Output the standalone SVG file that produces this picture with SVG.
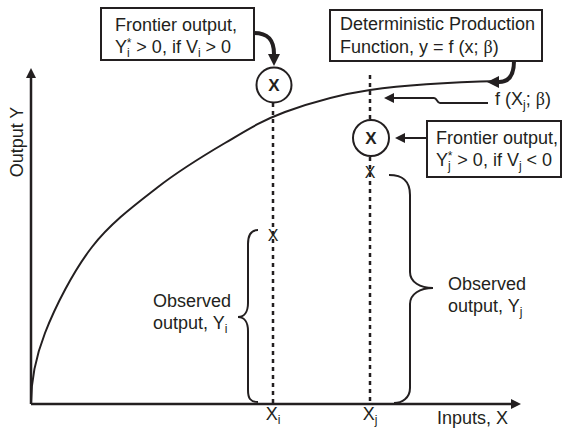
<svg xmlns="http://www.w3.org/2000/svg" width="562" height="429" viewBox="0 0 562 429">
<defs>
<style>
text{font-family:"Liberation Sans",Arial,sans-serif;font-size:18px;fill:#231f20}
.sub,.sup{font-size:12px}
.beta{font-family:"Liberation Serif","Times New Roman",serif}
.box{fill:#fff;stroke:#231f20;stroke-width:2}
.axis{fill:none;stroke:#231f20;stroke-width:2.5}
.curve{fill:none;stroke:#231f20;stroke-width:2}
.dot{fill:none;stroke:#231f20;stroke-width:2.5;stroke-dasharray:4 4}
.thick{fill:none;stroke:#231f20;stroke-width:4}
.thin{fill:none;stroke:#231f20;stroke-width:2}
.circ{fill:#fff;stroke:#231f20;stroke-width:2}
.mk{font-size:16px}
.bx{font-size:17px;font-weight:bold}
</style>
<marker id="ah" viewBox="0 0 10 10" refX="0" refY="5" markerWidth="14" markerHeight="12" markerUnits="userSpaceOnUse" orient="auto"><path d="M0,0 L10,5 L0,10 z" fill="#231f20"/></marker>
<marker id="ahs" viewBox="0 0 10 10" refX="0" refY="5" markerWidth="13" markerHeight="10" markerUnits="userSpaceOnUse" orient="auto"><path d="M0,0 L10,5 L0,10 z" fill="#231f20"/></marker>
</defs>

<g id="axes">
<path class="axis" d="M31,404 L31,78" marker-end="url(#ahs)"/>
<path class="axis" d="M31,404 L511,404" marker-end="url(#ahs)"/>
<text transform="translate(23,142) rotate(-90)" text-anchor="middle">Output Y</text>
<text x="437" y="424">Inputs, X</text>
<text x="273" y="420" text-anchor="middle">X<tspan class="sub" dy="4">i</tspan></text>
<text x="370" y="420" text-anchor="middle">X<tspan class="sub" dy="4">j</tspan></text>
</g>

<g id="frontier-curve">
<path class="curve" d="M31,404 C31,380 34.8,359.2 45,333 C55.2,306.8 73.2,271.3 92,247 C110.8,222.7 135.8,204.3 158,187 C180.2,169.7 203.8,155.5 225,143 C246.2,130.5 260.8,121 285,112 C309.2,103.2 334.2,95.2 370,90 C405.8,84.8 460,82 500,81"/>
</g>

<g id="connectors">
<path class="dot" d="M273,103 L273,404"/>
<path class="dot" d="M370,75 L370,120"/>
<path class="dot" d="M370,157 L370,404"/>
<path class="thick" d="M254,33 C268,33 274,40 274,54" marker-end="url(#ah)"/>
<path class="thick" d="M514,61 C514,76 508,82 499,82" marker-end="url(#ah)"/>
<path class="thin" d="M488,103 L440,103 C437,103 437,98 434,98 L394,98" marker-end="url(#ahs)"/>
<path class="thin" d="M427,138 L405,138" marker-end="url(#ahs)"/>
<path class="thin" d="M258,230 C250,230 248,236 248,244 L248,303 C248,312 244,317 238,317 C244,317 248,322 248,331 L248,390 C248,398 250,402 258,402"/>
<path class="thin" d="M389,175 C402,175 410,180 410,195 L410,272 C410,282 420,288 433,288 C420,288 410,294 410,304 L410,388 C410,398 402,403 394,403"/>
</g>

<g id="frontier-i">
<circle class="circ" cx="274" cy="85" r="17.5"/>
<text class="bx" x="274" y="91" text-anchor="middle">X</text>
</g>

<g id="frontier-j">
<circle class="circ" cx="371" cy="138" r="18"/>
<text class="bx" x="371" y="144" text-anchor="middle">X</text>
</g>

<g id="observed-i">
<text class="mk" x="273" y="241" text-anchor="middle">X</text>
<text x="153" y="307">Observed</text>
<text x="153" y="329">output, Y<tspan class="sub" dy="4">i</tspan></text>
</g>

<g id="observed-j">
<text class="mk" x="370" y="178" text-anchor="middle">X</text>
<text x="448" y="290">Observed</text>
<text x="448" y="312">output, Y<tspan class="sub" dy="4">j</tspan></text>
</g>

<g id="box-frontier-i">
<rect class="box" x="101" y="8" width="153" height="52"/>
<text x="115" y="31">Frontier output,</text>
<text x="115" y="53">Y<tspan class="sub" dy="4">i</tspan><tspan class="sup" dx="-3" dy="-10">*</tspan><tspan dy="6"> &gt; 0, if V</tspan><tspan class="sub" dy="4">i</tspan><tspan dy="-4"> &gt; 0</tspan></text>
</g>

<g id="box-production">
<rect class="box" x="330" y="10" width="212" height="51"/>
<text x="340" y="30">Deterministic Production</text>
<text x="340" y="53">Function, y = f (x; <tspan class="beta">β</tspan>)</text>
</g>

<g id="label-fxj">
<text x="495" y="105">f (X<tspan class="sub" dy="4">j</tspan><tspan dy="-4">; </tspan><tspan class="beta">β</tspan>)</text>
</g>

<g id="box-frontier-j">
<rect class="box" x="427" y="121" width="134" height="56"/>
<text x="436" y="144">Frontier output,</text>
<text x="436" y="166">Y<tspan class="sub" dy="4">j</tspan><tspan class="sup" dx="-3" dy="-10">*</tspan><tspan dy="6"> &gt; 0, if V</tspan><tspan class="sub" dy="4">j</tspan><tspan dy="-4"> &lt; 0</tspan></text>
</g>
</svg>
